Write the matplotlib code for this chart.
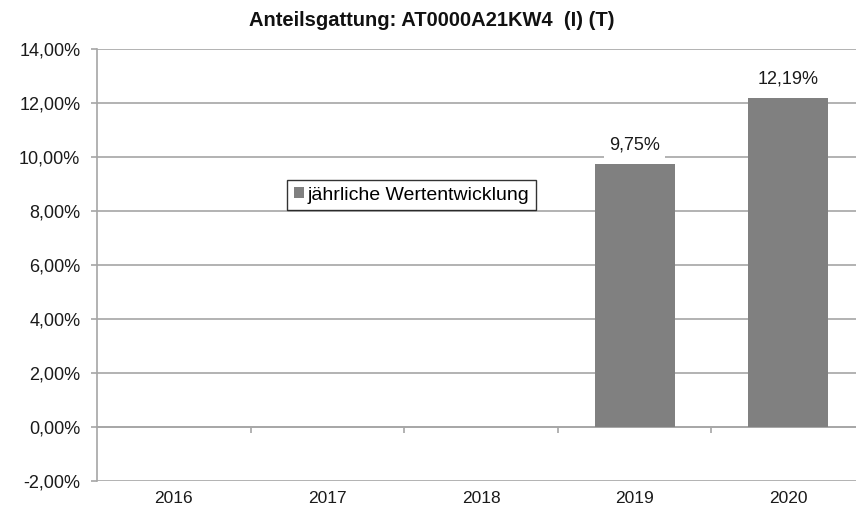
import matplotlib
matplotlib.use("Agg")
import matplotlib.pyplot as plt
from matplotlib.patches import Patch
import numpy as np

years = ["2016", "2017", "2018", "2019", "2020"]
values = [np.nan, np.nan, np.nan, 9.75, 12.19]
yticks = [-2, 0, 2, 4, 6, 8, 10, 12, 14]
title = "Anteilsgattung: AT0000A21KW4  (I) (T)"
legend_label = "jährliche Wertentwicklung"

plt.rcParams['font.family'] = ['Liberation Sans', 'DejaVu Sans']

W, H = 856, 512
fig = plt.figure(figsize=(W/100, H/100), dpi=100)
left, right, top, bottom = 97, 865, 49, 481
ax = fig.add_axes([left/W, 1-bottom/H, (right-left)/W, (bottom-top)/H])

x = np.arange(len(years))
bar_color = "#808080"
grid_color = "#a6a6a6"
txt_color = "#1a1a1a"
ax.bar(x, values, width=0.52, color=bar_color, zorder=3)

for xi, v in zip(x, values):
    if not np.isnan(v):
        ax.annotate(f"{v:.2f}%".replace(".", ","), (xi, v), xytext=(0, 19),
                    textcoords="offset pixels", ha="center", va="center",
                    fontsize=13, color=txt_color, zorder=5,
                    bbox=dict(boxstyle="square,pad=0.3", fc="white", ec="none"))

ax.set_xlim(-0.5, len(years)-0.5)
ax.set_ylim(-2, 14)
ax.set_yticks(yticks)
ax.set_yticklabels([f"{t:.2f}%".replace(".", ",") for t in yticks], fontsize=13, color=txt_color)
ax.yaxis.grid(True, color=grid_color, linewidth=1.2, zorder=0)
ax.set_axisbelow(True)
ax.tick_params(axis="y", length=4, color=grid_color, width=1.2, pad=8)

ax.set_xticks(x)
ax.set_xticklabels(years, fontsize=12.5, color=txt_color)
ax.tick_params(axis="x", length=0, pad=7)

for s in ["top", "right", "bottom"]:
    ax.spines[s].set_visible(False)
ax.spines["left"].set_color(grid_color)
ax.spines["left"].set_linewidth(1.2)

# x axis at zero with category boundary ticks
sec = ax.secondary_xaxis(2/16)
sec.set_xticks(np.arange(0.5, len(years)-0.5, 1.0))
sec.set_xticklabels([])
sec.tick_params(length=4, color=grid_color, width=1.2, direction="out")
sec.spines["bottom"].set_color(grid_color)
sec.spines["bottom"].set_linewidth(1.2)

fig.text(432/W, 1-20/H, title, ha="center", va="center", fontsize=14.5, fontweight="bold", color="#111111")

handle = Patch(facecolor=bar_color, edgecolor="none")
leg = ax.legend([handle], [legend_label], loc="center", bbox_to_anchor=(0.41, 0.662),
                fontsize=14, frameon=True, fancybox=False, handlelength=0.5,
                handleheight=0.5, handletextpad=0.2, borderpad=0.35, borderaxespad=0)
leg.get_frame().set_edgecolor("black")
leg.get_frame().set_linewidth(1.0)

fig.savefig("out.png", dpi=100)
